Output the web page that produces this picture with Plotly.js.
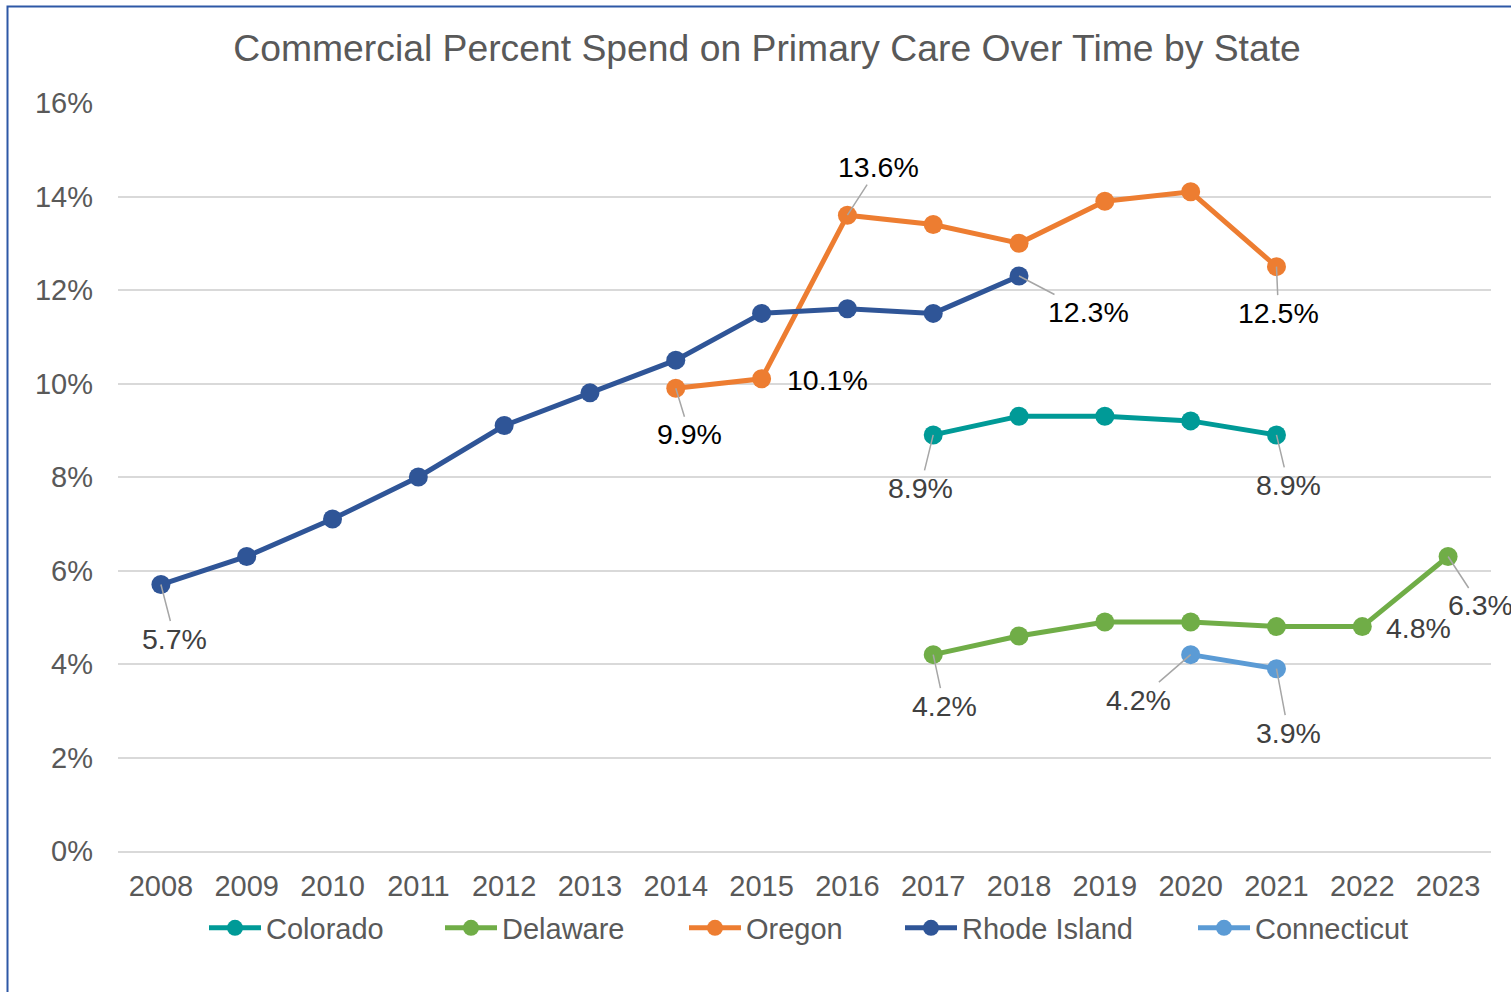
<!DOCTYPE html>
<html>
<head>
<meta charset="utf-8">
<script src="https://cdn.plot.ly/plotly-3.0.1.min.js"></script>
<style>html,body{margin:0;padding:0;background:#fff;}#chart{width:1511px;height:992px;}</style>
</head>
<body>
<div id="chart"></div>
<script>
const years = ['2008','2009','2010','2011','2012','2013','2014','2015','2016','2017','2018','2019','2020','2021','2022','2023'];

const coloradoYears = ['2017','2018','2019','2020','2021'];
const coloradoValues = [8.9, 9.3, 9.3, 9.2, 8.9];

const delawareYears = ['2017','2018','2019','2020','2021','2022','2023'];
const delawareValues = [4.2, 4.6, 4.9, 4.9, 4.8, 4.8, 6.3];

const oregonYears = ['2014','2015','2016','2017','2018','2019','2020','2021'];
const oregonValues = [9.9, 10.1, 13.6, 13.4, 13.0, 13.9, 14.1, 12.5];

const rhodeIslandYears = ['2008','2009','2010','2011','2012','2013','2014','2015','2016','2017','2018'];
const rhodeIslandValues = [5.7, 6.3, 7.1, 8.0, 9.1, 9.8, 10.5, 11.5, 11.6, 11.5, 12.3];

const connecticutYears = ['2020','2021'];
const connecticutValues = [4.2, 3.9];

const yTickValues = [0, 2, 4, 6, 8, 10, 12, 14, 16];
const yTickLabels = ['0%','2%','4%','6%','8%','10%','12%','14%','16%'];

// data labels: [series years, series values, year, ax, ay, color, showArrow]
const labelSpecs = [
  [rhodeIslandYears, rhodeIslandValues, '2008', 14, 54, '#404040', true],
  [rhodeIslandYears, rhodeIslandValues, '2018', 69, 36, '#000000', true],
  [oregonYears, oregonValues, '2014', 14, 46, '#000000', true],
  [oregonYears, oregonValues, '2015', 66, 1, '#000000', false],
  [oregonYears, oregonValues, '2016', 31, -48, '#000000', true],
  [oregonYears, oregonValues, '2021', 2, 46, '#000000', true],
  [coloradoYears, coloradoValues, '2017', -13, 53, '#404040', true],
  [coloradoYears, coloradoValues, '2021', 12, 50, '#404040', true],
  [delawareYears, delawareValues, '2017', 11, 51, '#404040', true],
  [delawareYears, delawareValues, '2022', 56, 1, '#404040', false],
  [delawareYears, delawareValues, '2023', 32, 49, '#404040', true],
  [connecticutYears, connecticutValues, '2020', -52, 45, '#404040', true],
  [connecticutYears, connecticutValues, '2021', 12, 64, '#404040', true]
];

const FONT = 'Liberation Sans, Arial, sans-serif';

function series(name, xs, ys, color, legendId) {
  return {
    type: 'scatter', mode: 'lines+markers', name: name,
    x: xs, y: ys,
    line: {color: color, width: 5},
    marker: {color: color, size: 19},
    cliponaxis: false,
    legend: legendId
  };
}

const traces = [
  series('Colorado', coloradoYears, coloradoValues, '#009A97', 'legend'),
  series('Delaware', delawareYears, delawareValues, '#70AD47', 'legend2'),
  series('Oregon', oregonYears, oregonValues, '#ED7D31', 'legend3'),
  series('Rhode Island', rhodeIslandYears, rhodeIslandValues, '#2F5597', 'legend4'),
  series('Connecticut', connecticutYears, connecticutValues, '#5B9BD5', 'legend5')
];

const annotations = labelSpecs.map(s => {
  const [xs, ys, yr, ax, ay, col, arrow] = s;
  const v = ys[xs.indexOf(yr)];
  const a = {
    x: years.indexOf(yr), y: v, xref: 'x', yref: 'y',
    text: v.toFixed(1) + '%',
    font: {family: FONT, size: 28.5, color: col},
    showarrow: arrow
  };
  if (arrow) {
    Object.assign(a, {ax: ax, ay: ay, arrowhead: 0, arrowwidth: 1.5, arrowcolor: '#A6A6A6', standoff: 0});
  } else {
    Object.assign(a, {xshift: ax, yshift: -ay});
  }
  return a;
});

function legendAt(px) {
  return {
    orientation: 'h', x: (px - 5 - 118) / 1373, xanchor: 'left', y: -(928 - 851) / 748, yanchor: 'middle',
    font: {family: FONT, size: 29, color: '#595959'},
    itemwidth: 52, bgcolor: 'rgba(0,0,0,0)', borderwidth: 0
  };
}

const layout = {
  width: 1511, height: 992,
  margin: {l: 118, r: 20, t: 103, b: 141},
  paper_bgcolor: '#ffffff', plot_bgcolor: '#ffffff',
  font: {family: FONT, color: '#595959'},
  title: {
    text: 'Commercial Percent Spend on Primary Care Over Time by State',
    font: {family: FONT, size: 37.3, color: '#595959'},
    x: 0.4727, xref: 'paper', xanchor: 'center',
    y: 1 - 48/992, yref: 'container', yanchor: 'middle'
  },
  xaxis: {
    type: 'category', categoryorder: 'array', categoryarray: years,
    tickvals: years, ticktext: years,
    range: [-0.5, 15.5],
    showgrid: false, zeroline: false,
    showline: true, linecolor: '#D9D9D9', linewidth: 2,
    ticks: '', ticklabelstandoff: 8,
    tickfont: {family: FONT, size: 29, color: '#595959'},
    fixedrange: true
  },
  yaxis: {
    range: [0, 16],
    tickvals: yTickValues, ticktext: yTickLabels,
    showgrid: true, gridcolor: '#D9D9D9', gridwidth: 2,
    zeroline: false, showline: false,
    ticks: '', ticklabelstandoff: 24,
    tickfont: {family: FONT, size: 29, color: '#595959'},
    fixedrange: true
  },
  showlegend: true,
  legend: legendAt(209),
  legend2: legendAt(445),
  legend3: legendAt(689),
  legend4: legendAt(905),
  legend5: legendAt(1198),
  annotations: annotations,
  shapes: [{
    type: 'rect', xref: 'paper', yref: 'paper',
    x0: (7.5 - 118) / 1373, x1: 1.3,
    y0: -0.4, y1: (851 - 6.5) / 748,
    line: {color: '#2E58A6', width: 2}, fillcolor: 'rgba(0,0,0,0)', layer: 'below'
  }]
};

Plotly.newPlot('chart', traces, layout, {displayModeBar: false, staticPlot: true});
</script>
</body>
</html>
